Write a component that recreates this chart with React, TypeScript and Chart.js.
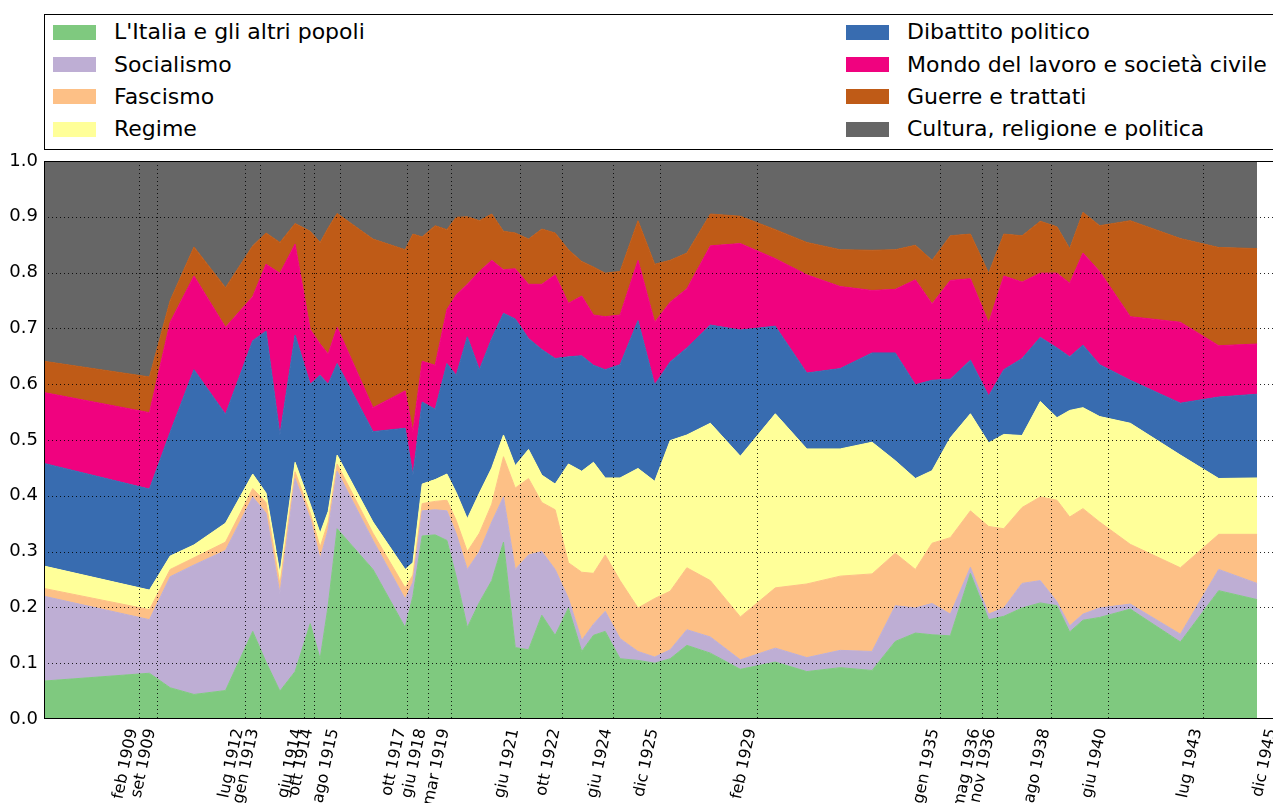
import React, { useEffect, useRef } from "react";
import { Chart, registerables } from "chart.js";

Chart.register(...registerables);
Chart.defaults.font.family = "'DejaVu Sans', sans-serif";

// Issue dates (decimal years)
const dates = [
  1906.01, 1909.42, 1910.09, 1910.86, 1911.88, 1912.76, 1913.19, 1913.64, 1914.13, 1914.62,
  1914.94, 1915.2, 1915.49, 1916.65, 1917.69, 1917.94, 1918.24, 1918.66, 1919.04, 1919.34,
  1919.7, 1920.09, 1920.49, 1920.87, 1921.25, 1921.68, 1922.11, 1922.54, 1922.97, 1923.4,
  1923.78, 1924.16, 1924.64, 1925.22, 1925.76, 1926.26, 1926.8, 1927.56, 1928.53, 1929.66,
  1930.68, 1931.76, 1932.79, 1933.54, 1934.19, 1934.73, 1935.32, 1935.97, 1936.56, 1937.05,
  1937.64, 1938.23, 1938.77, 1939.18, 1939.61, 1940.15, 1941.14, 1942.76, 1944.0, 1945.24,
];

const italia = [
  0.068, 0.082, 0.056, 0.044, 0.051, 0.157, 0.102, 0.05, 0.085, 0.171,
  0.108, 0.203, 0.341, 0.268, 0.164, 0.22, 0.328, 0.33, 0.32, 0.255,
  0.164, 0.209, 0.248, 0.317, 0.128, 0.124, 0.186, 0.15, 0.199, 0.121,
  0.15, 0.157, 0.108, 0.105, 0.1, 0.108, 0.132, 0.118, 0.089, 0.102,
  0.085, 0.092, 0.087, 0.139, 0.154, 0.151, 0.149, 0.261, 0.178, 0.184,
  0.199, 0.208, 0.203, 0.156, 0.177, 0.182, 0.197, 0.138, 0.23, 0.214,
];
const socialismo = [
  0.152, 0.096, 0.199, 0.232, 0.251, 0.241, 0.267, 0.175, 0.346, 0.188,
  0.179, 0.137, 0.103, 0.052, 0.051, 0.025, 0.045, 0.045, 0.053, 0.077,
  0.104, 0.091, 0.105, 0.081, 0.14, 0.17, 0.114, 0.118, 0.017, 0.02,
  0.02, 0.036, 0.036, 0.016, 0.011, 0.016, 0.028, 0.029, 0.017, 0.025,
  0.025, 0.031, 0.034, 0.064, 0.045, 0.056, 0.039, 0.011, 0.01, 0.015,
  0.044, 0.04, 0.007, 0.011, 0.011, 0.017, 0.009, 0.014, 0.038, 0.029,
];
const fascismo = [
  0.014, 0.018, 0.013, 0.013, 0.015, 0.015, 0.019, 0.017, 0.012, 0.01,
  0.021, 0.013, 0.013, 0.013, 0.02, 0.013, 0.013, 0.015, 0.019, 0.024,
  0.032, 0.033, 0.032, 0.072, 0.146, 0.137, 0.088, 0.107, 0.064, 0.122,
  0.091, 0.101, 0.104, 0.078, 0.105, 0.105, 0.111, 0.101, 0.077, 0.108,
  0.132, 0.133, 0.139, 0.094, 0.069, 0.108, 0.137, 0.101, 0.157, 0.142,
  0.136, 0.15, 0.182, 0.195, 0.189, 0.154, 0.107, 0.119, 0.063, 0.088,
];
const regime = [
  0.04, 0.035, 0.024, 0.023, 0.034, 0.026, 0.017, 0.019, 0.017, 0.016,
  0.025, 0.019, 0.016, 0.02, 0.033, 0.022, 0.035, 0.039, 0.047, 0.05,
  0.059, 0.072, 0.065, 0.039, 0.04, 0.052, 0.049, 0.046, 0.177, 0.181,
  0.199, 0.138, 0.184, 0.25, 0.21, 0.27, 0.238, 0.282, 0.288, 0.312,
  0.242, 0.228, 0.236, 0.166, 0.163, 0.13, 0.179, 0.174, 0.15, 0.169,
  0.129, 0.171, 0.148, 0.191, 0.181, 0.189, 0.217, 0.202, 0.1, 0.101,
];
const dibattito = [
  0.184, 0.181, 0.222, 0.314, 0.195, 0.239, 0.29, 0.248, 0.228, 0.215,
  0.283, 0.228, 0.164, 0.162, 0.253, 0.157, 0.147, 0.126, 0.198, 0.21,
  0.326, 0.221, 0.232, 0.218, 0.263, 0.199, 0.225, 0.225, 0.192, 0.207,
  0.174, 0.194, 0.203, 0.265, 0.173, 0.141, 0.156, 0.176, 0.226, 0.157,
  0.136, 0.144, 0.16, 0.193, 0.168, 0.162, 0.105, 0.096, 0.084, 0.116,
  0.138, 0.115, 0.125, 0.096, 0.112, 0.093, 0.077, 0.093, 0.146, 0.15,
];
const mondo = [
  0.127, 0.137, 0.197, 0.168, 0.156, 0.079, 0.12, 0.29, 0.163, 0.098,
  0.056, 0.054, 0.065, 0.043, 0.067, 0.078, 0.073, 0.079, 0.097, 0.144,
  0.094, 0.176, 0.14, 0.078, 0.09, 0.097, 0.117, 0.15, 0.096, 0.107,
  0.09, 0.095, 0.089, 0.108, 0.112, 0.107, 0.106, 0.142, 0.155, 0.121,
  0.176, 0.147, 0.112, 0.114, 0.188, 0.137, 0.177, 0.146, 0.131, 0.168,
  0.137, 0.115, 0.134, 0.132, 0.165, 0.167, 0.114, 0.145, 0.092, 0.09,
];
const guerre = [
  0.056, 0.064, 0.039, 0.052, 0.071, 0.091, 0.056, 0.055, 0.037, 0.176,
  0.182, 0.226, 0.204, 0.302, 0.253, 0.354, 0.223, 0.25, 0.143, 0.139,
  0.121, 0.091, 0.083, 0.069, 0.064, 0.081, 0.099, 0.075, 0.096, 0.062,
  0.086, 0.078, 0.078, 0.071, 0.104, 0.075, 0.064, 0.057, 0.049, 0.052,
  0.058, 0.066, 0.072, 0.071, 0.062, 0.078, 0.08, 0.08, 0.089, 0.075,
  0.083, 0.093, 0.083, 0.062, 0.073, 0.082, 0.172, 0.15, 0.176, 0.171,
];
const cultura = [
  0.359, 0.387, 0.25, 0.154, 0.227, 0.152, 0.129, 0.146, 0.112, 0.126,
  0.146, 0.12, 0.094, 0.14, 0.159, 0.131, 0.136, 0.116, 0.123, 0.101,
  0.1, 0.107, 0.095, 0.126, 0.129, 0.14, 0.122, 0.129, 0.159, 0.18,
  0.19, 0.201, 0.198, 0.107, 0.185, 0.178, 0.165, 0.095, 0.099, 0.123,
  0.146, 0.159, 0.16, 0.159, 0.151, 0.178, 0.134, 0.131, 0.201, 0.131,
  0.134, 0.108, 0.118, 0.157, 0.092, 0.116, 0.107, 0.139, 0.155, 0.157,
];

const seriesNames = [
  "L'Italia e gli altri popoli",
  "Socialismo",
  "Fascismo",
  "Regime",
  "Dibattito politico",
  "Mondo del lavoro e società civile",
  "Guerre e trattati",
  "Cultura, religione e politica",
];
const seriesValues = [italia, socialismo, fascismo, regime, dibattito, mondo, guerre, cultura];
const seriesColors = ["#7fc97f", "#beaed4", "#fdc086", "#ffff99", "#386cb0", "#f0027f", "#bf5b17", "#666666"];

const tickDates = [
  1909.083, 1909.667, 1912.5, 1913.0, 1914.417, 1914.75, 1915.583, 1917.75, 1918.417, 1919.167,
  1921.417, 1922.75, 1924.417, 1925.917, 1929.083, 1935.0, 1936.333, 1936.833, 1938.583, 1940.417,
  1943.5, 1945.917,
];
const tickLabels = [
  "feb 1909", "set 1909", "lug 1912", "gen 1913", "giu 1914", "ott 1914", "ago 1915", "ott 1917",
  "giu 1918", "mar 1919", "giu 1921", "ott 1922", "giu 1924", "dic 1925", "feb 1929", "gen 1935",
  "mag 1936", "nov 1936", "ago 1938", "giu 1940", "lug 1943", "dic 1945",
];
const yTicks = [0.1, 0.2, 0.3, 0.4, 0.5, 0.6, 0.7, 0.8, 0.9];

const X_MIN = 1906.01;
const X_MAX = 1945.917;

const overlayPlugin = {
  id: "overlay",
  afterDatasetsDraw(chart: any) {
    const { ctx, chartArea: a, scales } = chart;
    const x = scales.x;
    const y = scales.y;
    ctx.save();
    ctx.strokeStyle = "rgba(0,0,0,0.85)";
    ctx.lineWidth = 1;
    ctx.setLineDash([1, 3]);
    ctx.beginPath();
    for (const v of yTicks) {
      const py = Math.round(y.getPixelForValue(v)) + 0.5;
      ctx.moveTo(a.left, py);
      ctx.lineTo(a.right, py);
    }
    for (const t of tickDates) {
      const px = Math.round(x.getPixelForValue(t)) + 0.5;
      ctx.moveTo(px, a.top);
      ctx.lineTo(px, a.bottom);
    }
    ctx.stroke();
    ctx.setLineDash([]);
    ctx.strokeStyle = "#000";
    ctx.lineWidth = 1;
    ctx.strokeRect(a.left + 0.5, a.top + 0.5, a.right - a.left - 1, a.bottom - a.top - 1);
    ctx.restore();
  },
};

export default function App() {
  const ref = useRef<HTMLCanvasElement>(null);

  useEffect(() => {
    const datasets = seriesValues.map((vals, i) => ({
      label: seriesNames[i],
      data: dates.map((d, j) => ({ x: d, y: vals[j] })),
      backgroundColor: seriesColors[i],
      borderColor: seriesColors[i],
      borderWidth: 1,
      fill: i === 0 ? "origin" : "-1",
      pointRadius: 0,
      tension: 0,
    }));
    const chart = new Chart(ref.current as HTMLCanvasElement, {
      type: "line",
      data: { datasets } as any,
      plugins: [overlayPlugin],
      options: {
        responsive: false,
        animation: false,
        events: [],
        layout: { padding: { top: 161, right: 12, left: 0, bottom: 0 } },
        plugins: { legend: { display: false }, tooltip: { enabled: false } },
        scales: {
          x: {
            type: "linear",
            min: X_MIN,
            max: X_MAX,
            grid: { display: false, drawTicks: false },
            border: { display: false },
            afterBuildTicks: (s: any) => {
              s.ticks = tickDates.map((v) => ({ value: v }));
            },
            afterFit: (s: any) => {
              s.height = 84;
              s.paddingLeft = 0;
              s.paddingRight = 0;
            },
            ticks: {
              autoSkip: false,
              minRotation: 78,
              maxRotation: 78,
              padding: 8,
              labelOffset: -6,
              color: "#000",
              font: { size: 16 },
              callback: (_v: any, i: number) => tickLabels[i],
            },
          },
          y: {
            stacked: true,
            min: 0,
            max: 1,
            grid: { display: false, drawTicks: false },
            border: { display: false },
            afterFit: (s: any) => {
              s.width = 44;
            },
            ticks: {
              stepSize: 0.1,
              padding: 6,
              color: "#000",
              font: { size: 18 },
              callback: (v: any) => Number(v).toFixed(1),
            },
          },
        },
      } as any,
    });
    return () => chart.destroy();
  }, []);

  const rowCenters = [17.3, 49.6, 81.9, 114.2];
  const colPatch = [8, 801];
  const colText = [69, 862];

  return (
    <div
      style={{
        position: "fixed",
        left: 0,
        top: 0,
        width: 1273,
        height: 803,
        overflow: "hidden",
        background: "#fff",
      }}
    >
      <canvas
        ref={ref}
        width={1290}
        height={803}
        style={{ position: "absolute", left: 0, top: 0, width: 1290, height: 803 }}
      />
      <div
        style={{
          position: "absolute",
          left: 44,
          top: 14,
          width: 1234,
          height: 136,
          border: "1px solid #000",
          boxSizing: "border-box",
          background: "#fff",
          fontFamily: "'DejaVu Sans', sans-serif",
        }}
      >
        {seriesNames.map((name, i) => {
          const col = i < 4 ? 0 : 1;
          const row = i % 4;
          const c = rowCenters[row];
          return (
            <React.Fragment key={name}>
              <div
                style={{
                  position: "absolute",
                  left: colPatch[col],
                  top: c - 7.5,
                  width: 43,
                  height: 15,
                  background: seriesColors[i],
                }}
              />
              <div
                style={{
                  position: "absolute",
                  left: colText[col],
                  top: c - 13,
                  height: 26,
                  lineHeight: "26px",
                  fontSize: 22,
                  color: "#000",
                  whiteSpace: "nowrap",
                }}
              >
                {name}
              </div>
            </React.Fragment>
          );
        })}
      </div>
    </div>
  );
}
